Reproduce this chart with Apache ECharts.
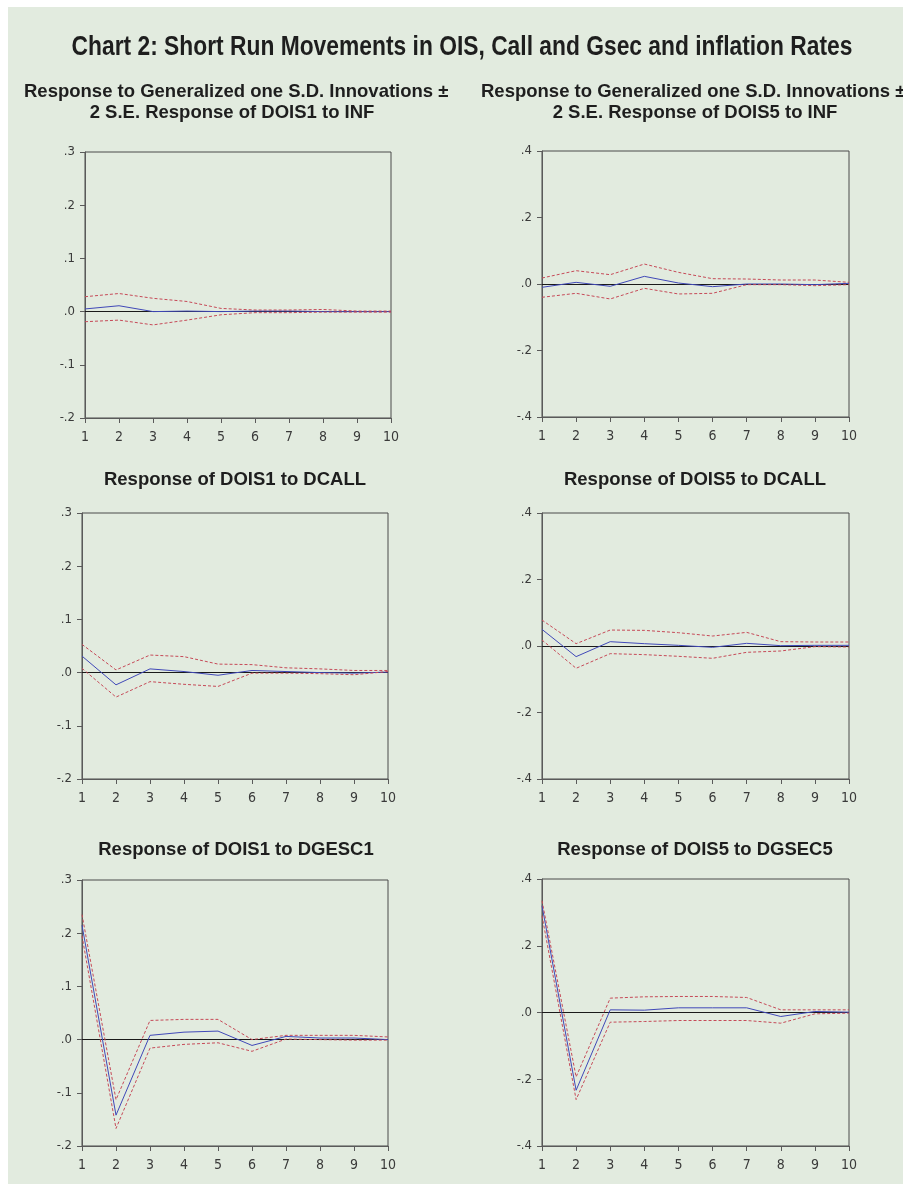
<!DOCTYPE html>
<html>
<head>
<meta charset="utf-8">
<script src="https://cdn.jsdelivr.net/npm/echarts@6/dist/echarts.min.js"></script>
<style>
html,body{margin:0;padding:0;background:#fff;}
#c{width:903px;height:1186px;}
</style>
</head>
<body>
<div id="c"></div>
<script>
// ---- Data ----
const periods = [1, 2, 3, 4, 5, 6, 7, 8, 9, 10];

const mainTitle = 'Chart 2: Short Run Movements in OIS, Call and Gsec and inflation Rates';
const panelTitles = [
  'Response of DOIS1 to DCALL',
  'Response of DOIS5 to DCALL',
  'Response of DOIS1 to DGESC1',
  'Response of DOIS5 to DGSEC5'
];
const headLine1 = 'Response to Generalized one S.D. Innovations \u00b1';
const headLine2Left = '2 S.E. Response of DOIS1 to INF';
const headLine2Right = '2 S.E. Response of DOIS5 to INF';

// DOIS1 to INF
const resp_DOIS1_INF  = [0.005, 0.011, 0.000, 0.001, 0.000, 0.001, 0.001, 0.000, 0.000, 0.000];
const upper_DOIS1_INF = [0.028, 0.034, 0.025, 0.019, 0.006, 0.003, 0.003, 0.004, 0.001, 0.001];
const lower_DOIS1_INF = [-0.019, -0.016, -0.025, -0.016, -0.006, -0.002, -0.002, -0.001, -0.001, -0.001];

// DOIS5 to INF
const resp_DOIS5_INF  = [-0.010, 0.005, -0.007, 0.023, 0.003, -0.008, 0.000, 0.000, -0.002, 0.002];
const upper_DOIS5_INF = [0.018, 0.040, 0.028, 0.060, 0.035, 0.016, 0.015, 0.012, 0.012, 0.005];
const lower_DOIS5_INF = [-0.040, -0.028, -0.045, -0.013, -0.030, -0.028, -0.002, -0.002, -0.005, -0.002];

// DOIS1 to DCALL
const resp_DOIS1_DCALL  = [0.031, -0.023, 0.007, 0.002, -0.005, 0.004, 0.002, 0.000, -0.001, 0.001];
const upper_DOIS1_DCALL = [0.053, 0.005, 0.033, 0.030, 0.016, 0.015, 0.009, 0.007, 0.004, 0.004];
const lower_DOIS1_DCALL = [0.008, -0.046, -0.017, -0.022, -0.026, -0.001, -0.001, -0.002, -0.004, 0.002];

// DOIS5 to DCALL
const resp_DOIS5_DCALL  = [0.050, -0.032, 0.013, 0.007, 0.002, -0.004, 0.008, 0.001, 0.002, 0.002];
const upper_DOIS5_DCALL = [0.078, 0.007, 0.048, 0.047, 0.040, 0.030, 0.041, 0.013, 0.012, 0.012];
const lower_DOIS5_DCALL = [0.018, -0.067, -0.023, -0.026, -0.031, -0.037, -0.019, -0.015, -0.002, -0.003];

// DOIS1 to DGESC1
const resp_DOIS1_DGSEC1  = [0.215, -0.142, 0.008, 0.014, 0.016, -0.011, 0.006, 0.003, 0.003, 0.000];
const upper_DOIS1_DGSEC1 = [0.235, -0.113, 0.036, 0.038, 0.038, 0.000, 0.008, 0.008, 0.008, 0.005];
const lower_DOIS1_DGSEC1 = [0.195, -0.167, -0.016, -0.009, -0.006, -0.022, 0.001, 0.000, -0.001, -0.001];

// DOIS5 to DGSEC5
const resp_DOIS5_DGSEC5  = [0.320, -0.233, 0.008, 0.007, 0.014, 0.014, 0.014, -0.012, 0.003, 0.001];
const upper_DOIS5_DGSEC5 = [0.335, -0.193, 0.043, 0.047, 0.048, 0.048, 0.045, 0.008, 0.008, 0.008];
const lower_DOIS5_DGSEC5 = [0.290, -0.261, -0.029, -0.027, -0.024, -0.024, -0.024, -0.032, -0.004, -0.002];

// ---- Layout ----
const panels = [
  {resp: resp_DOIS1_INF, up: upper_DOIS1_INF, lo: lower_DOIS1_INF, scale: 'A', grid: {left: 85, top: 152, width: 306, height: 266}},
  {resp: resp_DOIS5_INF, up: upper_DOIS5_INF, lo: lower_DOIS5_INF, scale: 'B', grid: {left: 542, top: 151, width: 307, height: 266}},
  {resp: resp_DOIS1_DCALL, up: upper_DOIS1_DCALL, lo: lower_DOIS1_DCALL, scale: 'A', grid: {left: 82, top: 513, width: 306, height: 266}},
  {resp: resp_DOIS5_DCALL, up: upper_DOIS5_DCALL, lo: lower_DOIS5_DCALL, scale: 'B', grid: {left: 542, top: 513, width: 307, height: 266}},
  {resp: resp_DOIS1_DGSEC1, up: upper_DOIS1_DGSEC1, lo: lower_DOIS1_DGSEC1, scale: 'A', grid: {left: 82, top: 880, width: 306, height: 266}},
  {resp: resp_DOIS5_DGSEC5, up: upper_DOIS5_DGSEC5, lo: lower_DOIS5_DGSEC5, scale: 'B', grid: {left: 542, top: 879, width: 307, height: 267}}
];

function fmtY(v) {
  const r = Math.round(v * 10) / 10;
  if (r === 0) return '.0';
  return (r < 0 ? '-' : '') + Math.abs(r).toFixed(1).replace(/^0/, '');
}

const axisColor = '#5a5a5a';
const labelStyle = {color: '#3a3a3a', fontFamily: 'DejaVu Sans Condensed, DejaVu Sans, sans-serif', fontSize: 13};

const grids = [], xAxes = [], yAxes = [], series = [];
panels.forEach((p, i) => {
  grids.push(Object.assign({show: true, borderColor: '#4a4a4a', borderWidth: 1, backgroundColor: 'transparent'}, p.grid));
  xAxes.push({
    type: 'value', gridIndex: i, min: 1, max: 10, interval: 1,
    axisLine: {show: true, onZero: false, lineStyle: {color: axisColor}},
    axisTick: {show: true, inside: false, length: 5, lineStyle: {color: axisColor}},
    axisLabel: Object.assign({margin: 12}, labelStyle, {fontSize: 14}),
    splitLine: {show: false}
  });
  const isA = p.scale === 'A';
  yAxes.push({
    type: 'value', gridIndex: i,
    min: isA ? -0.2 : -0.4, max: isA ? 0.3 : 0.4, interval: isA ? 0.1 : 0.2,
    axisLine: {show: true, lineStyle: {color: axisColor}},
    axisTick: {show: true, inside: false, length: 5, lineStyle: {color: axisColor}},
    axisLabel: Object.assign({margin: 10, formatter: fmtY}, labelStyle),
    splitLine: {show: false}
  });
  const mk = arr => periods.map((x, k) => [x, arr[k]]);
  series.push({
    type: 'line', xAxisIndex: i, yAxisIndex: i, data: mk(p.resp),
    symbol: 'none', lineStyle: {color: '#4048b8', width: 1}, z: 4, silent: true,
    markLine: {
      silent: true, symbol: 'none', label: {show: false},
      lineStyle: {color: '#1a1a1a', width: 1, type: 'solid'},
      data: [{yAxis: 0}], z: 3
    }
  });
  series.push({
    type: 'line', xAxisIndex: i, yAxisIndex: i, data: mk(p.up),
    symbol: 'none', lineStyle: {color: '#c64a58', width: 1, type: [3, 2]}, z: 5, silent: true
  });
  series.push({
    type: 'line', xAxisIndex: i, yAxisIndex: i, data: mk(p.lo),
    symbol: 'none', lineStyle: {color: '#c64a58', width: 1, type: [3, 2]}, z: 5, silent: true
  });
});

const titleFont = 'bold 27px "Liberation Sans", Arial, sans-serif';
const headFont = 'bold 18.5px "Liberation Sans", Arial, sans-serif';
const ink = '#1e1e1e';

function txt(x, y, text, font, align, sx) {
  return {type: 'text', x: x, y: y, scaleX: sx || 1, silent: true,
    style: {text: text, font: font, fill: ink, textAlign: align, textVerticalAlign: 'middle'}};
}

const graphics = [
  {type: 'rect', shape: {x: 8, y: 7, width: 895, height: 1177}, style: {fill: '#e2ebdf'}, z: -10, silent: true},
  txt(462, 48, mainTitle, titleFont, 'center', 0.845),
  txt(24, 92, headLine1, headFont, 'left'),
  txt(232, 113, headLine2Left, headFont, 'center'),
  txt(481, 92, headLine1, headFont, 'left'),
  txt(695, 113, headLine2Right, headFont, 'center'),
  txt(235, 480, panelTitles[0], headFont, 'center'),
  txt(695, 480, panelTitles[1], headFont, 'center'),
  txt(236, 850, panelTitles[2], headFont, 'center'),
  txt(695, 850, panelTitles[3], headFont, 'center')
];

const chart = echarts.init(document.getElementById('c'), null, {renderer: 'canvas'});
chart.setOption({
  backgroundColor: '#ffffff',
  animation: false,
  graphic: graphics,
  grid: grids,
  xAxis: xAxes,
  yAxis: yAxes,
  series: series
});
</script>
</body>
</html>
